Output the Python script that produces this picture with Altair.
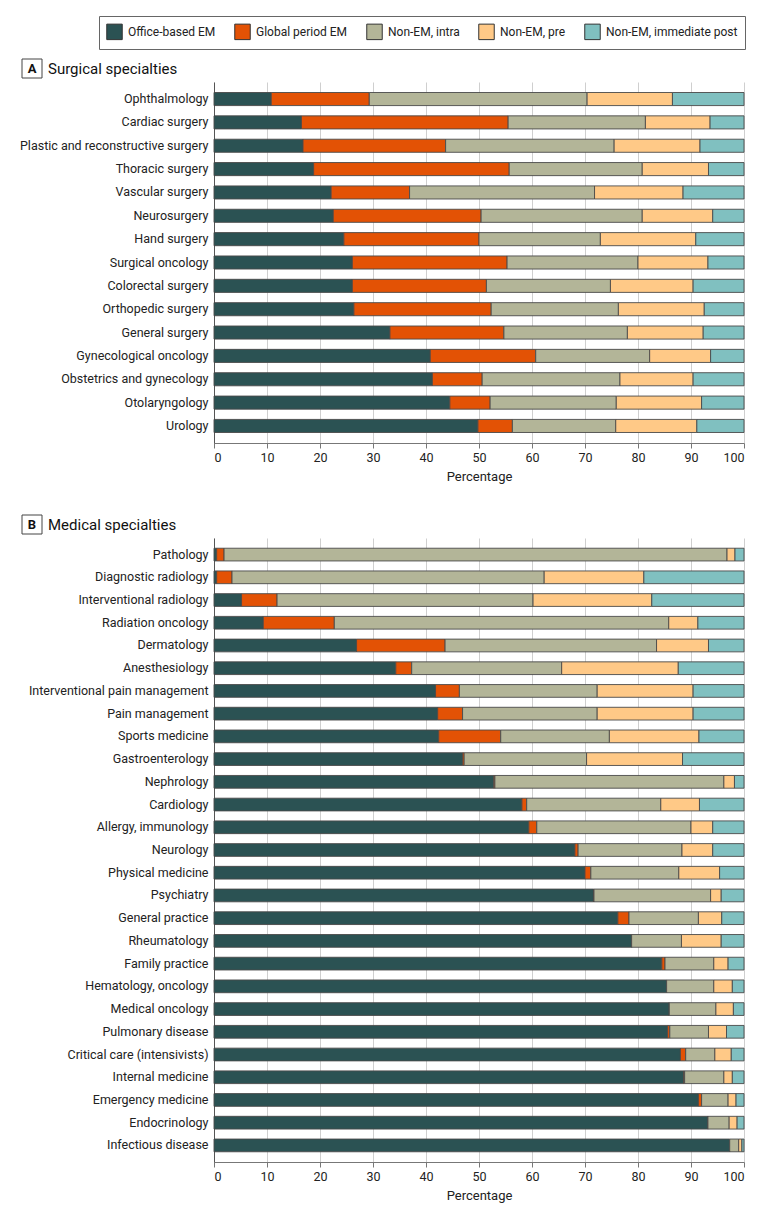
import altair as alt
import pandas as pd

series = ["Office-based EM", "Global period EM", "Non-EM, intra", "Non-EM, pre", "Non-EM, immediate post"]
colors = ["#2B5253", "#E35205", "#B3B598", "#FFC987", "#80C0C0"]

surg_cats = ["Ophthalmology", "Cardiac surgery", "Plastic and reconstructive surgery", "Thoracic surgery",
             "Vascular surgery", "Neurosurgery", "Hand surgery", "Surgical oncology", "Colorectal surgery",
             "Orthopedic surgery", "General surgery", "Gynecological oncology", "Obstetrics and gynecology",
             "Otolaryngology", "Urology"]
surg_office = [10.8, 16.5, 16.8, 18.8, 22.1, 22.5, 24.5, 26.1, 26.1, 26.4, 33.2, 40.8, 41.2, 44.5, 49.8]
surg_global = [18.5, 39.0, 26.9, 36.9, 14.8, 27.9, 25.5, 29.2, 25.3, 25.9, 21.5, 19.9, 9.4, 7.6, 6.5]
surg_intra = [41.1, 25.9, 31.8, 25.1, 34.9, 30.4, 22.9, 24.7, 23.4, 24.0, 23.3, 21.5, 26.0, 23.8, 19.5]
surg_pre = [16.1, 12.2, 16.2, 12.5, 16.7, 13.3, 18.0, 13.2, 15.6, 16.2, 14.3, 11.5, 13.8, 16.1, 15.3]
surg_post = [13.5, 6.4, 8.3, 6.7, 11.5, 5.9, 9.1, 6.8, 9.6, 7.5, 7.7, 6.3, 9.6, 8.0, 8.9]

med_cats = ["Pathology", "Diagnostic radiology", "Interventional radiology", "Radiation oncology", "Dermatology",
            "Anesthesiology", "Interventional pain management", "Pain management", "Sports medicine",
            "Gastroenterology", "Nephrology", "Cardiology", "Allergy, immunology", "Neurology",
            "Physical medicine", "Psychiatry", "General practice", "Rheumatology", "Family practice",
            "Hematology, oncology", "Medical oncology", "Pulmonary disease", "Critical care (intensivists)",
            "Internal medicine", "Emergency medicine", "Endocrinology", "Infectious disease"]
med_office = [0.5, 0.5, 5.2, 9.3, 26.9, 34.3, 41.8, 42.2, 42.4, 46.9, 52.8, 58.1, 59.4, 68.1, 70.0, 71.6,
              76.2, 78.8, 84.5, 85.4, 85.9, 85.6, 88.0, 88.6, 91.4, 93.2, 97.3]
med_global = [1.4, 2.9, 6.7, 13.4, 16.7, 3.0, 4.5, 4.7, 11.7, 0.3, 0.2, 0.9, 1.5, 0.6, 1.1, 0.1,
              2.1, 0.0, 0.6, 0.0, 0.0, 0.4, 1.0, 0.2, 0.6, 0.0, 0.0]
med_intra = [94.9, 58.9, 48.3, 63.1, 39.9, 28.3, 26.0, 25.4, 20.5, 23.1, 43.2, 25.3, 29.1, 19.6, 16.6, 22.0,
             13.1, 9.4, 9.2, 8.9, 8.8, 7.3, 5.5, 7.4, 5.0, 4.0, 1.7]
med_pre = [1.5, 18.8, 22.4, 5.5, 9.8, 22.0, 18.1, 18.1, 16.9, 18.1, 2.0, 7.3, 4.1, 5.8, 7.7, 2.0,
           4.4, 7.5, 2.7, 3.5, 3.3, 3.4, 3.1, 1.6, 1.5, 1.5, 0.6]
med_post = [1.7, 18.9, 17.4, 8.7, 6.7, 12.4, 9.6, 9.6, 8.5, 11.6, 1.8, 8.4, 5.9, 5.9, 4.6, 4.3,
            4.2, 4.3, 3.0, 2.2, 2.0, 3.3, 2.4, 2.2, 1.5, 1.3, 0.4]

x_ticks = [0, 10, 20, 30, 40, 50, 60, 70, 80, 90, 100]

FONT = "Roboto"
TXT = "#222222"


def build_df(cats, vals):
    rows = []
    for i, c in enumerate(cats):
        for s_idx, s in enumerate(series):
            rows.append({"category": c, "series": s, "order": s_idx, "value": vals[s_idx][i]})
    return pd.DataFrame(rows)


def panel(cats, vals, letter, title, height, show_legend):
    df = build_df(cats, vals)
    if show_legend:
        legend = alt.Legend(
            orient="none", direction="horizontal", title=None,
            legendX=-115, legendY=-66,
            labelFont=FONT, labelFontSize=12, labelColor=TXT,
            symbolType="square", symbolSize=240, symbolStrokeColor="#333",
            symbolStrokeWidth=1, symbolOpacity=1,
            fillColor="white", strokeColor="#666", padding=7,
            columnPadding=16, labelOffset=5, labelLimit=300,
        )
        color = alt.Color("series:N", sort=series,
                          scale=alt.Scale(domain=series, range=colors), legend=legend)
    else:
        color = alt.Color("series:N", sort=series,
                          scale=alt.Scale(domain=series, range=colors), legend=None)
    bars = alt.Chart(df).mark_bar(stroke="#4a4a4a", strokeWidth=0.9).encode(
        y=alt.Y("category:N", sort=cats, title=None,
                scale=alt.Scale(paddingInner=0.44, paddingOuter=0.45),
                axis=alt.Axis(labelFont=FONT, labelFontSize=12.5, labelColor=TXT, ticks=False,
                              labelPadding=6, domainColor="#555", labelLimit=300, grid=False)),
        x=alt.X("value:Q", stack="zero", title="Percentage",
                scale=alt.Scale(domain=[0, 100], nice=False),
                axis=alt.Axis(values=x_ticks, grid=True, gridColor="#cfcfcf", gridWidth=1,
                              labelFont=FONT, labelFontSize=12.5, labelColor=TXT,
                              titleFont=FONT, titleFontSize=13, titleFontWeight="normal", titleColor=TXT,
                              domainColor="#777", tickColor="#777", tickSize=5, labelPadding=3,
                              titlePadding=7)),
        color=color,
        order=alt.Order("order:Q"),
    )
    lab = pd.DataFrame({"t": [letter], "s": [title]})
    box = alt.Chart(lab).mark_rect(fill="white", stroke="#444", strokeWidth=1).encode(
        x=alt.value(-192), x2=alt.value(-172), y=alt.value(-23), y2=alt.value(-4))
    letter_t = alt.Chart(lab).mark_text(font=FONT, fontSize=13, fontWeight="bold", color="#111",
                                        align="center", baseline="middle").encode(
        x=alt.value(-182), y=alt.value(-13), text="t:N")
    title_t = alt.Chart(lab).mark_text(font=FONT, fontSize=15, color="#111",
                                       align="left", baseline="middle").encode(
        x=alt.value(-166), y=alt.value(-13.5), text="s:N")
    return alt.layer(bars, box, letter_t, title_t).properties(width=530, height=height)


pA = panel(surg_cats, [surg_office, surg_global, surg_intra, surg_pre, surg_post],
           "A", "Surgical specialties", 361, True)
pB = panel(med_cats, [med_office, med_global, med_intra, med_pre, med_post],
           "B", "Medical specialties", 624, False)

chart = alt.vconcat(pA, pB, spacing=30).properties(
    padding={"left": 11, "top": 7, "right": 10, "bottom": 4}
).configure_view(stroke=None)

chart.save("out.html", embed_options={"renderer": "svg", "actions": False})
